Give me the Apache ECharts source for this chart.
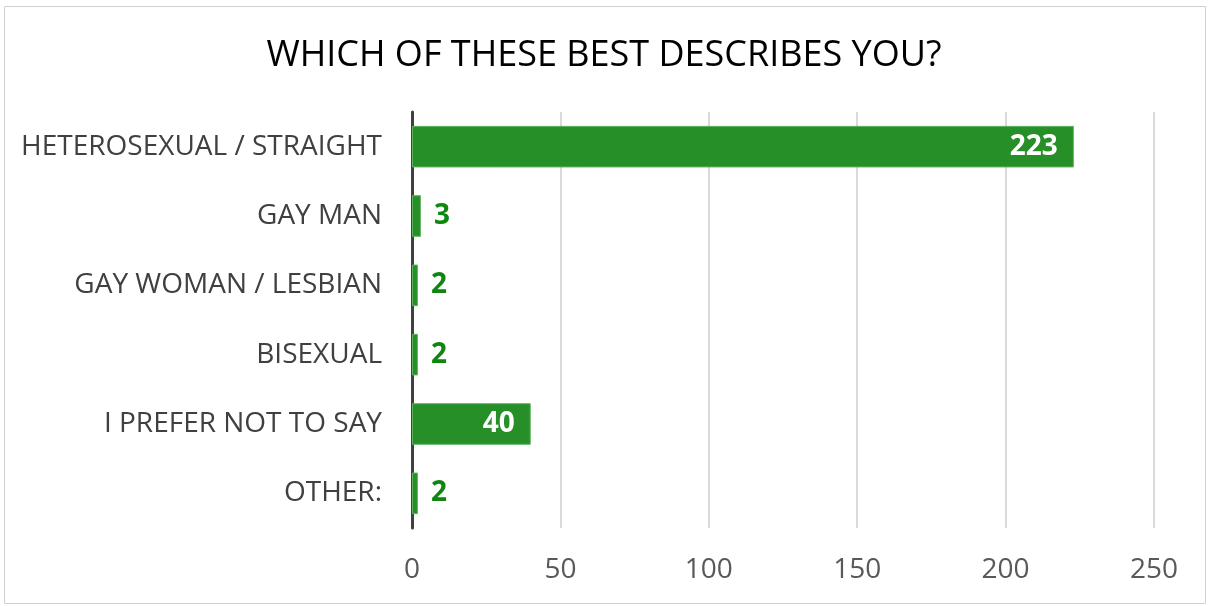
<!DOCTYPE html>
<html>
<head>
<meta charset="utf-8">
<script src="https://cdn.jsdelivr.net/npm/echarts@6/dist/echarts.min.js"></script>
<style>
  html, body { margin: 0; padding: 0; background: #fff; }
  #chartmain { width: 1208px; height: 606px; }
</style>
</head>
<body>
<div id="chartmain"></div>
<script>
var categories = ['HETEROSEXUAL / STRAIGHT', 'GAY MAN', 'GAY WOMAN / LESBIAN', 'BISEXUAL', 'I PREFER NOT TO SAY', 'OTHER:'];
var counts = [223, 3, 2, 2, 40, 2];
var xTicks = [0, 50, 100, 150, 200, 250];

var fontName = '"Open Sans", "Noto Sans", sans-serif';

// big bars get the number inside in white, small ones outside in green
var barData = counts.map(function (v) {
    var inside = v > 20;
    return {
        value: v,
        label: {
            position: inside ? 'insideRight' : 'right',
            color: inside ? '#ffffff' : '#0e870e',
            distance: inside ? 16 : 13
        }
    };
});

var myChart = echarts.init(document.getElementById('chartmain'), null, {renderer: 'canvas'});
var option = {
    backgroundColor: '#ffffff',
    animation: false,
    title: {
        text: 'WHICH OF THESE BEST DESCRIBES YOU?',
        left: 'center',
        top: 33,
        textStyle: {
            fontFamily: fontName,
            fontWeight: 'normal',
            fontSize: 36,
            color: '#000000'
        }
    },
    graphic: [{
        type: 'rect',
        shape: {x: 4.5, y: 6.5, width: 1201, height: 597},
        style: {fill: 'none', stroke: '#d0d0d0', lineWidth: 1},
        silent: true
    }],
    grid: {
        left: 412,
        right: 54,
        top: 112,
        bottom: 78,
        containLabel: false
    },
    xAxis: {
        type: 'value',
        min: xTicks[0],
        max: xTicks[xTicks.length - 1],
        interval: 50,
        axisLine: {show: false},
        axisTick: {show: false},
        splitLine: {lineStyle: {color: '#d9d9d9', width: 2}},
        axisLabel: {
            fontFamily: fontName,
            fontSize: 28,
            color: '#595959',
            margin: 28
        }
    },
    yAxis: {
        type: 'category',
        data: categories,
        inverse: true,
        axisLine: {show: true, lineStyle: {color: '#404040', width: 3}},
        axisTick: {show: false},
        axisLabel: {
            fontFamily: fontName,
            fontSize: 28,
            color: '#404040',
            margin: 30
        }
    },
    series: [{
        type: 'bar',
        data: barData,
        barCategoryGap: '40%',
        itemStyle: {
            color: '#278f27',
            borderColor: '#5fb35f',
            borderWidth: 1
        },
        label: {
            show: true,
            fontFamily: fontName,
            fontWeight: 'bold',
            fontSize: 28
        },
        z: 3
    }]
};
myChart.setOption(option);
</script>
</body>
</html>
